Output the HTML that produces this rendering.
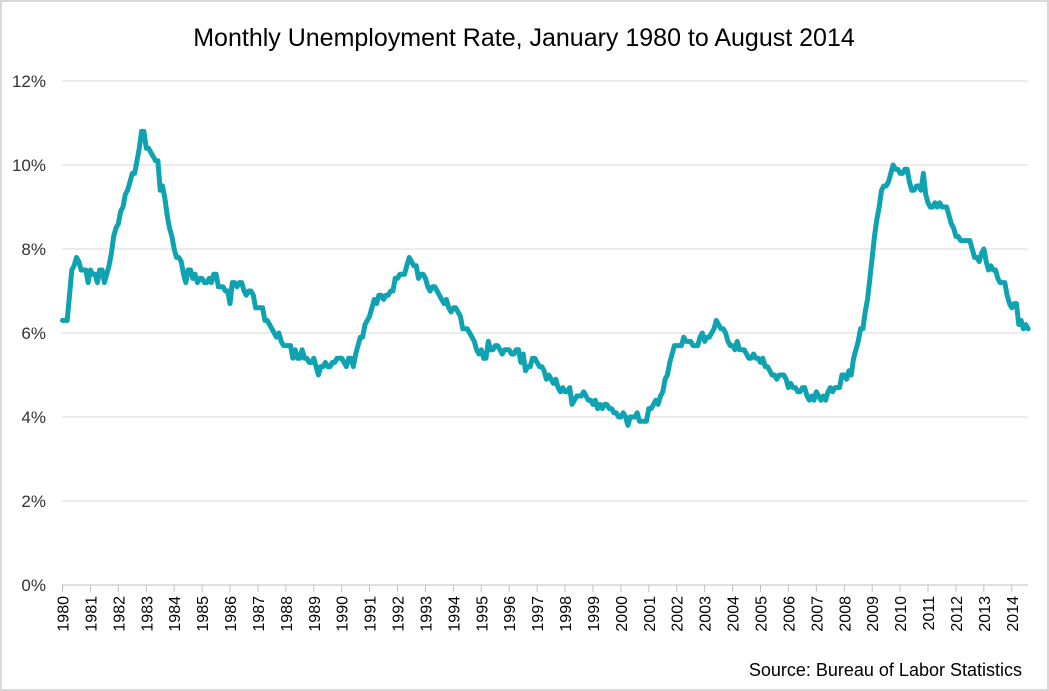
<!DOCTYPE html>
<html><head><meta charset="utf-8"><style>
body{margin:0;background:#fff}
#c{position:relative;width:1049px;height:691px;box-sizing:border-box;border:2px solid #d9d9d9;font-family:"Liberation Sans",sans-serif}
</style></head><body><div id="c">
<svg id="s" width="1045" height="687" style="position:absolute;left:0;top:0" font-family="Liberation Sans, sans-serif">
<g transform="translate(-2,-2)" id="g">
<text x="524" y="46" font-size="25" text-anchor="middle" fill="#000">Monthly Unemployment Rate, January 1980 to August 2014</text>
<text x="1022" y="676" font-size="18" text-anchor="end" fill="#000">Source: Bureau of Labor Statistics</text>
</g></svg></div>
<script>
var d=[6.3,6.3,6.3,6.9,7.5,7.6,7.8,7.7,7.5,7.5,7.5,7.2,
7.5,7.4,7.4,7.2,7.5,7.5,7.2,7.4,7.6,7.9,8.3,8.5,
8.6,8.9,9.0,9.3,9.4,9.6,9.8,9.8,10.1,10.4,10.8,10.8,
10.4,10.4,10.3,10.2,10.1,10.1,9.4,9.5,9.2,8.8,8.5,8.3,
8.0,7.8,7.8,7.7,7.4,7.2,7.5,7.5,7.3,7.4,7.2,7.3,
7.3,7.2,7.2,7.3,7.2,7.4,7.4,7.1,7.1,7.1,7.0,7.0,
6.7,7.2,7.2,7.1,7.2,7.2,7.0,6.9,7.0,7.0,6.9,6.6,
6.6,6.6,6.6,6.3,6.3,6.2,6.1,6.0,5.9,6.0,5.8,5.7,
5.7,5.7,5.7,5.4,5.6,5.4,5.4,5.6,5.4,5.4,5.3,5.3,
5.4,5.2,5.0,5.2,5.2,5.3,5.2,5.2,5.3,5.3,5.4,5.4,
5.4,5.3,5.2,5.4,5.4,5.2,5.5,5.7,5.9,5.9,6.2,6.3,
6.4,6.6,6.8,6.7,6.9,6.9,6.8,6.9,6.9,7.0,7.0,7.3,
7.3,7.4,7.4,7.4,7.6,7.8,7.7,7.6,7.6,7.3,7.4,7.4,
7.3,7.1,7.0,7.1,7.1,7.0,6.9,6.8,6.7,6.8,6.6,6.5,
6.6,6.6,6.5,6.4,6.1,6.1,6.1,6.0,5.9,5.8,5.6,5.5,
5.6,5.4,5.4,5.8,5.6,5.6,5.7,5.7,5.6,5.5,5.6,5.6,
5.6,5.5,5.5,5.6,5.6,5.3,5.5,5.1,5.2,5.2,5.4,5.4,
5.3,5.2,5.2,5.1,4.9,5.0,4.9,4.8,4.9,4.7,4.6,4.7,
4.6,4.6,4.7,4.3,4.4,4.5,4.5,4.5,4.6,4.5,4.4,4.4,
4.3,4.4,4.2,4.3,4.2,4.3,4.3,4.2,4.2,4.1,4.1,4.0,
4.0,4.1,4.0,3.8,4.0,4.0,4.0,4.1,3.9,3.9,3.9,3.9,
4.2,4.2,4.3,4.4,4.3,4.5,4.6,4.9,5.0,5.3,5.5,5.7,
5.7,5.7,5.7,5.9,5.8,5.8,5.8,5.7,5.7,5.7,5.9,6.0,
5.8,5.9,5.9,6.0,6.1,6.3,6.2,6.1,6.1,6.0,5.8,5.7,
5.7,5.6,5.8,5.6,5.6,5.6,5.5,5.4,5.4,5.5,5.4,5.4,
5.3,5.4,5.2,5.2,5.1,5.0,5.0,4.9,5.0,5.0,5.0,4.9,
4.7,4.8,4.7,4.7,4.6,4.6,4.7,4.7,4.5,4.4,4.5,4.4,
4.6,4.5,4.4,4.5,4.4,4.6,4.7,4.6,4.7,4.7,4.7,5.0,
5.0,4.9,5.1,5.0,5.4,5.6,5.8,6.1,6.1,6.5,6.8,7.3,
7.8,8.3,8.7,9.0,9.4,9.5,9.5,9.6,9.8,10.0,9.9,9.9,
9.8,9.8,9.9,9.9,9.6,9.4,9.4,9.5,9.5,9.4,9.8,9.3,
9.1,9.0,9.0,9.1,9.0,9.1,9.0,9.0,9.0,8.8,8.6,8.5,
8.3,8.3,8.2,8.2,8.2,8.2,8.2,8.0,7.8,7.8,7.7,7.9,
8.0,7.7,7.5,7.6,7.5,7.5,7.3,7.2,7.2,7.2,6.9,6.7,
6.6,6.7,6.7,6.2,6.3,6.1,6.2,6.1];
var g=document.getElementById('g'),h='';
var X0=62.5,PY=27.92/12,Y0=585,K=42;
for(var i=0;i<=6;i++){var y=Y0-i*2*K;
 h+='<line x1="62" x2="1028" y1="'+y+'" y2="'+y+'" stroke="'+(i?'#d9d9d9':'#bfbfbf')+'" stroke-width="1"/>';
 h+='<text x="46" y="'+(y+6)+'" font-size="17" text-anchor="end" fill="#333">'+(i*2)+'%</text>';}
for(var yr=0;yr<=34;yr++){var x=X0+yr*27.92;
 h+='<line x1="'+x+'" x2="'+x+'" y1="585" y2="592" stroke="#bfbfbf"/>';
 h+='<text transform="translate('+(x+6)+',596) rotate(-90)" font-size="16" text-anchor="end" fill="#000">'+(1980+yr)+'</text>';}
var p=[];for(var i=0;i<d.length;i++)p.push((X0+i*PY).toFixed(1)+','+(Y0-d[i]*K).toFixed(1));
h+='<polyline points="'+p.join(' ')+'" fill="none" stroke="#0fa3b1" stroke-width="5" stroke-linejoin="round" stroke-linecap="round"/>';
g.insertAdjacentHTML('beforeend',h);
</script></body></html>
